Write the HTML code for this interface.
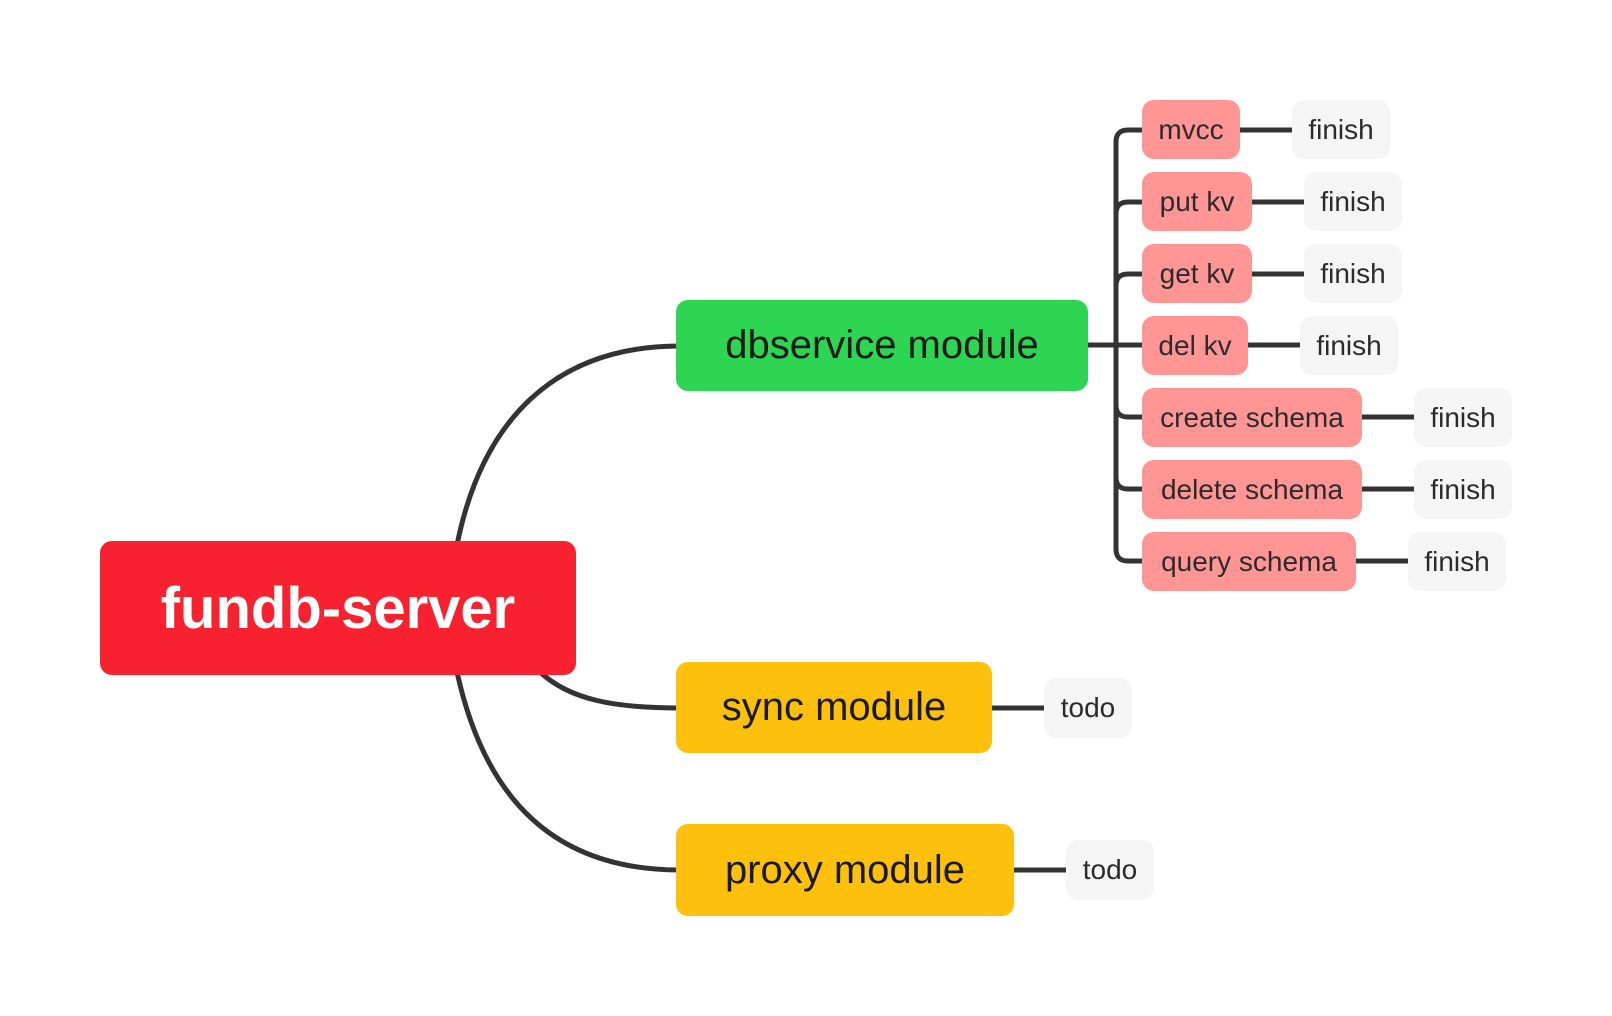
<!DOCTYPE html>
<html><head><meta charset="utf-8"><style>
body{margin:0;width:1612px;height:1016px;background:#fff;overflow:hidden;position:relative;font-family:"Liberation Sans",sans-serif}
.n{position:absolute;display:flex;align-items:center;justify-content:center;box-sizing:border-box;white-space:nowrap}
.s{background:#FF9595;border-radius:12px;color:#2b2b2b;font-size:28px;height:59px}
.f{background:#F5F5F5;border-radius:12px;color:#2b2b2b;font-size:28px;height:59px}
svg{position:absolute;left:0;top:0}
</style></head><body>
<svg width="1612" height="1016" fill="none" stroke="#333" stroke-width="5">
<path d="M457 545 C482 420 555 346 680 346"/>
<path d="M540 672 C570 700 615 708 680 708"/>
<path d="M457 672 C485 800 555 870 680 870"/>
<path d="M1086 345 H1142"/>
<path d="M1116 142 V550"/>
<path d="M1116 142 Q1116 130 1128 130 H1142"/>
<path d="M1116 214 Q1116 202 1128 202 H1142"/>
<path d="M1116 286 Q1116 274 1128 274 H1142"/>
<path d="M1116 405 Q1116 417 1128 417 H1142"/>
<path d="M1116 477 Q1116 489 1128 489 H1142"/>
<path d="M1116 549 Q1116 561 1128 561 H1142"/>
<path d="M1240 130 H1292 M1252 202 H1304 M1252 274 H1304 M1248 345 H1300 M1362 417 H1414 M1362 489 H1414 M1356 561 H1408"/>
<path d="M992 708 H1044 M1014 870 H1066"/>
</svg>
<div class="n" style="left:100px;top:541px;width:476px;height:134px;background:#F7212F;border-radius:12px;color:#fff;font-weight:bold;font-size:58px">fundb-server</div>
<div class="n" style="left:676px;top:300px;width:412px;height:91px;background:#2DD553;border-radius:12px;color:#1a1a1a;font-size:40px">dbservice module</div>
<div class="n" style="left:676px;top:662px;width:316px;height:91px;background:#FDC00C;border-radius:12px;color:#1a1a1a;font-size:40px">sync module</div>
<div class="n" style="left:676px;top:824px;width:338px;height:92px;background:#FDC00C;border-radius:12px;color:#1a1a1a;font-size:40px">proxy module</div>
<div class="n s" style="left:1142px;top:100px;width:98px">mvcc</div>
<div class="n s" style="left:1142px;top:172px;width:110px">put kv</div>
<div class="n s" style="left:1142px;top:244px;width:110px">get kv</div>
<div class="n s" style="left:1142px;top:316px;width:106px">del kv</div>
<div class="n s" style="left:1142px;top:388px;width:220px">create schema</div>
<div class="n s" style="left:1142px;top:460px;width:220px">delete schema</div>
<div class="n s" style="left:1142px;top:532px;width:214px">query schema</div>
<div class="n f" style="left:1292px;top:100px;width:98px">finish</div>
<div class="n f" style="left:1304px;top:172px;width:98px">finish</div>
<div class="n f" style="left:1304px;top:244px;width:98px">finish</div>
<div class="n f" style="left:1300px;top:316px;width:98px">finish</div>
<div class="n f" style="left:1414px;top:388px;width:98px">finish</div>
<div class="n f" style="left:1414px;top:460px;width:98px">finish</div>
<div class="n f" style="left:1408px;top:532px;width:98px">finish</div>
<div class="n f" style="left:1044px;top:678px;width:88px;height:60px">todo</div>
<div class="n f" style="left:1066px;top:840px;width:88px;height:60px">todo</div>
</body></html>
